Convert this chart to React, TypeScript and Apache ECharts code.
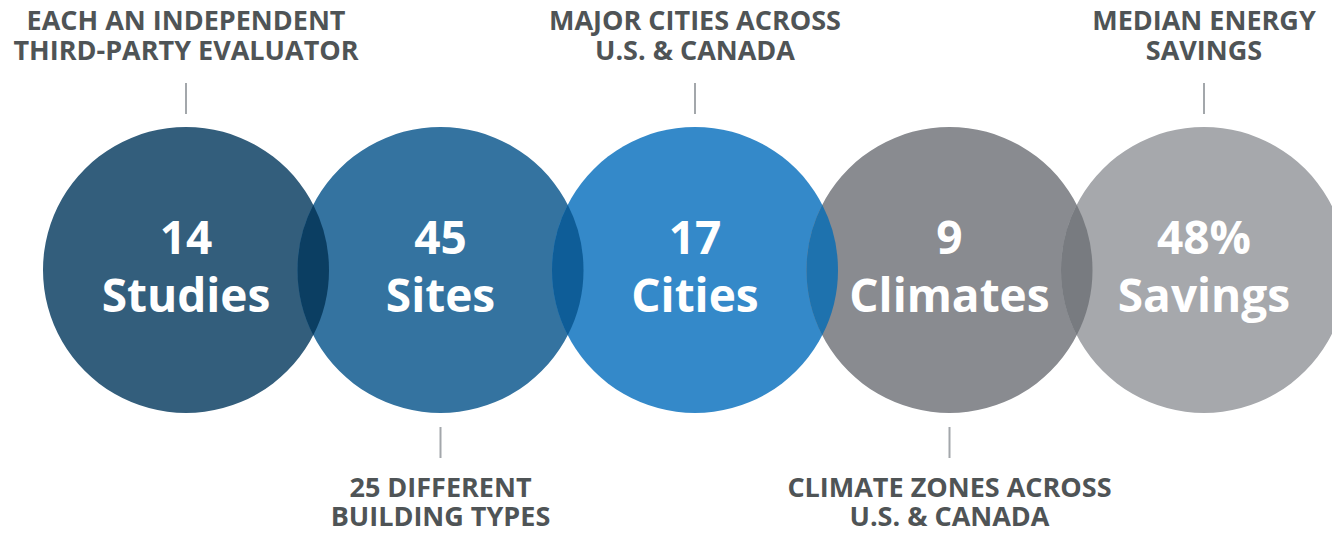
import React, { useEffect, useRef } from "react";
import * as echarts from "echarts";

const values = ["14", "45", "17", "9", "48%"];
const words = ["Studies", "Sites", "Cities", "Climates", "Savings"];
const captionLine1 = ["EACH AN INDEPENDENT", "25 DIFFERENT", "MAJOR CITIES ACROSS", "CLIMATE ZONES ACROSS", "MEDIAN ENERGY"];
const captionLine2 = ["THIRD-PARTY EVALUATOR", "BUILDING TYPES", "U.S. & CANADA", "U.S. & CANADA", "SAVINGS"];
const captionSide = ["top", "bottom", "top", "bottom", "top"];
const circleColors = ["#335E7C", "#3473A0", "#3489C9", "#898B90", "#A6A8AC"];
const overlapColors = ["#0B3E62", "#0E5D98", "#1E72AE", "#787B80"];

const FONT = "'Open Sans', 'Noto Sans', sans-serif";
const R = 143;
const FIRST_X = 186;
const STEP = 254.5;
const W = 1332;
const H = 534;

export default function App() {
  const ref = useRef<HTMLDivElement>(null);
  useEffect(() => {
    if (!ref.current) return;
    const chart = echarts.init(ref.current, undefined, { renderer: "svg" });
    const circleData = values.map((v, i) => [i, 0]);
    const lensData = overlapColors.map((c, i) => [i, i + 1]);

    const renderCircle = (params: any, api: any) => {
      const i = params.dataIndex;
      const p = api.coord([api.value(0), api.value(1)]);
      const cx = p[0];
      const cy = p[1];
      const top = captionSide[i] === "top";
      const labelColor = "#4F5456";
      const children: any[] = [
        {
          type: "circle",
          shape: { cx, cy, r: R },
          style: { fill: circleColors[i] },
          z2: 1,
        },
        {
          type: "text",
          z2: 10,
          style: {
            text: values[i],
            x: cx,
            y: cy - 34,
            align: "center",
            verticalAlign: "middle",
            fill: "#FFFFFF",
            fontSize: 46,
            fontWeight: "bold",
            fontFamily: FONT,
          },
        },
        {
          type: "text",
          z2: 10,
          style: {
            text: words[i],
            x: cx,
            y: cy + 24,
            align: "center",
            verticalAlign: "middle",
            fill: "#FFFFFF",
            fontSize: 46,
            fontWeight: "bold",
            fontFamily: FONT,
          },
        },
        {
          type: "line",
          shape: top
            ? { x1: cx, y1: cy - 187, x2: cx, y2: cy - 156 }
            : { x1: cx, y1: cy + 157, x2: cx, y2: cy + 188 },
          style: { stroke: "#A3A7AB", lineWidth: 2 },
        },
        {
          type: "text",
          style: {
            text: captionLine1[i] + "\n" + captionLine2[i],
            x: cx,
            y: top ? cy - 235.5 : cy + 231,
            align: "center",
            verticalAlign: "middle",
            lineHeight: top ? 30.5 : 29.5,
            fill: labelColor,
            fontSize: 27,
            fontWeight: "bold",
            fontFamily: FONT,
          },
        },
      ];
      return { type: "group", children };
    };

    const renderLens = (params: any, api: any) => {
      const i = params.dataIndex;
      const a = api.coord([api.value(0), 0]);
      const b = api.coord([api.value(1), 0]);
      const d = b[0] - a[0];
      const xm = (a[0] + b[0]) / 2;
      const cy = a[1];
      const h = Math.sqrt(Math.max(R * R - (d / 2) * (d / 2), 0));
      const pathData =
        `M ${xm} ${cy - h} A ${R} ${R} 0 0 1 ${xm} ${cy + h} ` +
        `A ${R} ${R} 0 0 1 ${xm} ${cy - h} Z`;
      return {
        type: "path",
        shape: { pathData },
        style: { fill: overlapColors[i] },
        z2: 5,
      };
    };

    chart.setOption({
      animation: false,
      grid: { left: 0, right: 0, top: 6, bottom: 0 },
      xAxis: {
        type: "value",
        min: -FIRST_X / STEP,
        max: (W - FIRST_X) / STEP,
        show: false,
      },
      yAxis: { type: "value", min: -1, max: 1, show: false },
      series: [
        {
          type: "custom",
          renderItem: renderCircle,
          data: circleData,
          clip: false,
          z: 1,
        },
        {
          type: "custom",
          renderItem: renderLens,
          data: lensData,
          clip: false,
          z: 2,
        },
      ],
    });
    return () => chart.dispose();
  }, []);
  return (
    <div
      ref={ref}
      style={{ position: "fixed", left: 0, top: 0, width: W, height: H, background: "#FFFFFF" }}
    />
  );
}
